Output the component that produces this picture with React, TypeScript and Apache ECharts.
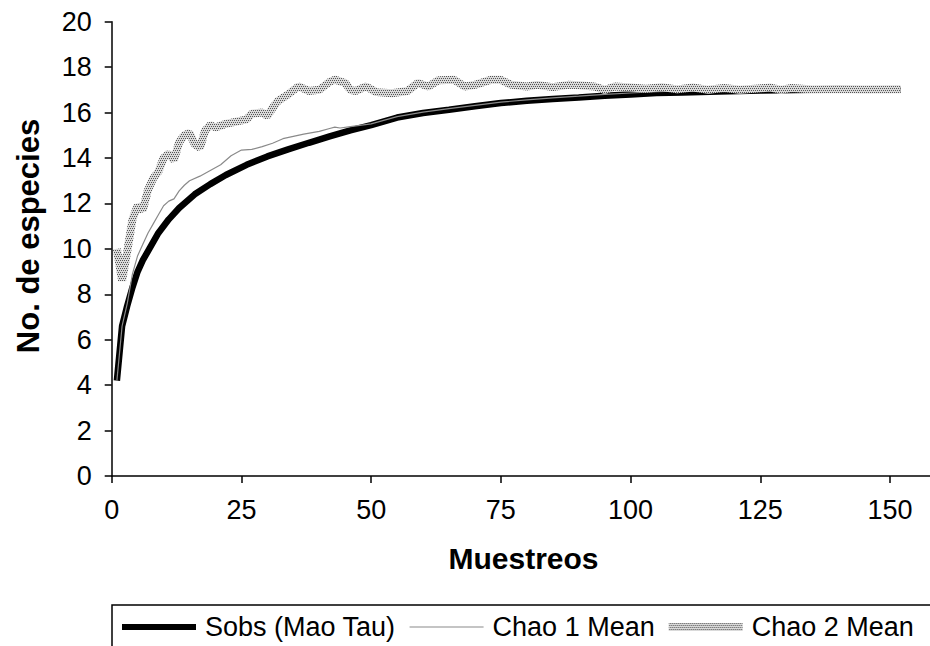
import React, { useEffect, useRef } from "react";
import * as echarts from "echarts";

const seriesNames = ["Sobs (Mao Tau)", "Chao 1 Mean", "Chao 2 Mean"];
const xAxisTitle = "Muestreos";
const yAxisTitle = "No. de especies";

const sobsX = [1, 2, 3, 4, 5, 6, 7, 9, 11, 13, 16, 19, 22, 26, 30, 34, 38, 42, 46, 50, 55, 60, 65, 70, 75, 80, 85, 90, 95, 100, 105, 110, 117, 125, 135, 145, 152];
const sobsY = [4.2, 6.6, 7.5, 8.3, 9.0, 9.5, 9.9, 10.7, 11.3, 11.8, 12.4, 12.85, 13.25, 13.7, 14.07, 14.38, 14.67, 14.95, 15.22, 15.45, 15.78, 15.98, 16.12, 16.28, 16.42, 16.52, 16.6, 16.66, 16.74, 16.8, 16.86, 16.88, 16.93, 16.97, 17.0, 17.0, 17.0];

const chao1X = [1, 2, 3, 4, 5, 6, 7, 8, 9, 10, 11, 12, 13, 14, 15, 17, 19, 21, 23, 25, 27, 29, 31, 33, 35, 37, 40, 42, 43, 44, 46, 50, 55, 60, 65, 70, 75, 80, 85, 90, 95, 100, 105, 110, 115, 120, 135, 152];
const chao1Y = [4.2, 6.6, 7.6, 8.9, 9.7, 10.2, 10.7, 11.1, 11.5, 11.9, 12.1, 12.2, 12.55, 12.8, 13.0, 13.2, 13.45, 13.7, 14.1, 14.35, 14.38, 14.5, 14.65, 14.85, 14.95, 15.05, 15.17, 15.3, 15.36, 15.32, 15.38, 15.5, 15.82, 16.02, 16.17, 16.32, 16.46, 16.56, 16.65, 16.72, 16.8, 16.86, 16.92, 16.95, 16.97, 17.0, 17.0, 17.0];

const chao2X = [1, 2, 3, 4, 5, 6, 7, 8, 9, 10, 11, 12, 13, 14, 15, 16, 17, 18, 19, 20, 22, 24, 26, 27, 29, 30, 31, 32, 34, 36, 38, 40, 42, 43, 45, 46, 47, 49, 51, 54, 57, 59, 61, 63, 66, 68, 70, 73, 75, 77, 80, 82, 85, 88, 90, 93, 95, 97, 100, 103, 106, 109, 112, 115, 118, 121, 124, 127, 129, 131, 135, 140, 145, 152];
const chao2Y = [10.0, 8.6, 9.9, 11.3, 11.9, 11.7, 12.6, 13.1, 13.4, 14.0, 14.2, 13.9, 14.7, 15.0, 15.1, 14.6, 14.45, 15.2, 15.45, 15.35, 15.5, 15.6, 15.7, 15.95, 16.0, 15.85, 16.2, 16.5, 16.8, 17.15, 16.95, 17.0, 17.35, 17.45, 17.3, 17.0, 16.95, 17.15, 16.9, 16.85, 16.95, 17.3, 17.15, 17.42, 17.44, 17.15, 17.22, 17.44, 17.44, 17.22, 17.15, 17.22, 17.12, 17.22, 17.2, 17.15, 17.0, 17.15, 17.1, 17.05, 17.12, 17.02, 17.1, 17.0, 17.08, 17.0, 17.05, 17.1, 17.0, 17.08, 17.02, 17.04, 17.02, 17.03];

const pairs = (xs: number[], ys: number[]) => xs.map((x, i) => [x, ys[i]]);

const FONT = "'Liberation Sans', Arial, sans-serif";

// legend icon shapes: tiny corner marks keep the bounding box at 74x28
const bandIcon = (y: number, h: number) =>
  `path://M0,0h0.01v0.01h-0.01z M0,${y}h74v${h}h-74z M73.99,27.99h0.01v0.01h-0.01z`;

export default function App() {
  const ref = useRef<HTMLDivElement>(null);
  useEffect(() => {
    const chart = echarts.init(ref.current!, null, { renderer: "svg" });
    const cv = document.createElement("canvas");
    cv.width = 4;
    cv.height = 4;
    const ctx = cv.getContext("2d")!;
    ctx.fillStyle = "#dadada";
    ctx.fillRect(0, 0, 4, 4);
    ctx.fillStyle = "#555555";
    ctx.fillRect(0, 0, 1, 1);
    ctx.fillRect(2, 0, 1, 1);
    ctx.fillRect(1, 2, 1, 1);
    ctx.fillRect(3, 2, 1, 1);
    const pattern: any = { image: cv, repeat: "repeat", imageWidth: 4, imageHeight: 4 };

    const axisCommon = {
      axisLine: { show: true, onZero: true, lineStyle: { color: "#000", width: 1.5 } },
      axisTick: { show: true, length: 7, lineStyle: { color: "#000", width: 1.5 } },
      splitLine: { show: false },
    };

    chart.setOption({
      animation: false,
      grid: { left: 111.7, top: 21.7, right: 0, bottom: 170, containLabel: false },
      xAxis: {
        type: "value",
        min: 0,
        max: 157.7,
        interval: 25,
        ...axisCommon,
        axisLabel: { fontFamily: FONT, fontSize: 27, color: "#000", margin: 20, showMaxLabel: false },
      },
      yAxis: {
        type: "value",
        min: 0,
        max: 20,
        interval: 2,
        ...axisCommon,
        axisLabel: { fontFamily: FONT, fontSize: 27, color: "#000", margin: 20 },
      },
      legend: {
        left: 122,
        top: 613,
        padding: 0,
        itemWidth: 74,
        itemHeight: 28,
        itemGap: 14,
        selectedMode: false,
        data: [
          { name: seriesNames[0], icon: bandIcon(11, 6), itemStyle: { color: "#000" } },
          { name: seriesNames[1], icon: bandIcon(13.5, 1), itemStyle: { color: "#8a8a8a" } },
          { name: seriesNames[2], icon: bandIcon(10, 8), itemStyle: { color: pattern } },
        ],
        textStyle: { fontFamily: FONT, fontSize: 27, color: "#000", lineHeight: 28, padding: [0, 0, 0, 4] },
      },
      series: [
        {
          name: seriesNames[0],
          type: "line",
          data: pairs(sobsX, sobsY),
          symbol: "none",
          showSymbol: false,
          lineStyle: { color: "#000", width: 6.5 },
          itemStyle: { color: "#000" },
        },
        {
          name: seriesNames[1],
          type: "line",
          data: pairs(chao1X, chao1Y),
          symbol: "none",
          showSymbol: false,
          lineStyle: { color: "#8a8a8a", width: 1.2 },
          itemStyle: { color: "#8a8a8a" },
        },
        {
          name: seriesNames[2],
          type: "line",
          data: pairs(chao2X, chao2Y),
          symbol: "none",
          showSymbol: false,
          lineStyle: { color: pattern, width: 8 },
          itemStyle: { color: "#9a9a9a" },
        },
      ],
      graphic: [
        {
          type: "rect",
          shape: { x: 112, y: 605, width: 830, height: 60 },
          style: { fill: "none", stroke: "#000", lineWidth: 1.5 },
        },
        {
          type: "text",
          x: 28,
          y: 236,
          rotation: Math.PI / 2,
          style: {
            text: yAxisTitle,
            fontFamily: FONT,
            fontSize: 31,
            fontWeight: "bold",
            fill: "#000",
            align: "center",
            verticalAlign: "middle",
          },
        },
        {
          type: "text",
          x: 523.5,
          y: 558,
          style: {
            text: xAxisTitle,
            fontFamily: FONT,
            fontSize: 30,
            fontWeight: "bold",
            fill: "#000",
            align: "center",
            verticalAlign: "middle",
          },
        },
      ],
    });
    return () => chart.dispose();
  }, []);
  return <div ref={ref} style={{ position: "absolute", left: 0, top: 0, width: 930, height: 646 }} />;
}
